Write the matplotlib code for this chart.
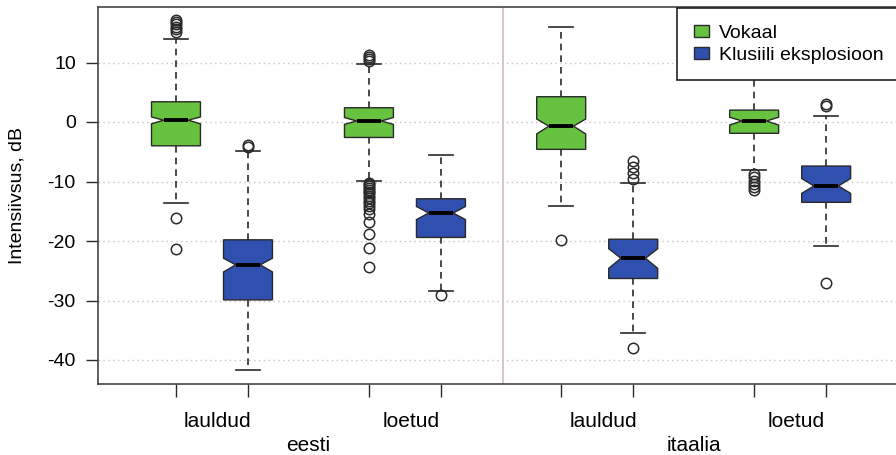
import matplotlib
matplotlib.use("Agg")
import matplotlib.pyplot as plt
from matplotlib.patches import Patch
from matplotlib.transforms import blended_transform_factory

plt.rcParams['font.family'] = ['Liberation Sans', 'DejaVu Sans']

# ---- data ----
groups = ["eesti", "itaalia"]
conditions = ["lauldud", "loetud"]
series = ["Vokaal", "Klusiili eksplosioon"]

q1 =     [-4.0, -29.9, -2.6, -19.4, -4.6, -26.3, -1.9, -13.5]
med =    [0.3, -24.0, 0.17, -15.3, -0.7, -22.9, 0.17, -10.75]
q3 =     [3.4, -19.8, 2.4, -12.9, 4.25, -19.7, 2.0, -7.4]
whislo = [-13.6, -41.7, -9.85, -28.4, -14.2, -35.4, -8.07, -20.8]
whishi = [13.9, -4.8, 9.75, -5.55, 16.0, -10.3, 9.0, 1.0]
cilo =   [-0.3, -25.2, -0.4, -16.4, -2.0, -24.6, -0.5, -12.0]
cihi =   [0.85, -22.9, 0.75, -14.2, 0.5, -21.3, 0.8, -9.5]
fliers = [
    [17.2, 16.8, 16.4, 16.0, 15.6, 15.2, -16.2, -21.3],
    [-4.15, -3.9],
    [11.2, 10.9, 10.6, 10.3, -10.2, -10.5, -10.8, -11.1, -11.4, -11.7, -12.0,
     -12.4, -12.8, -13.2, -13.6, -14.1, -14.6, -15.5, -16.8, -18.9, -21.2, -24.3],
    [-29.0],
    [-19.8],
    [-6.5, -7.5, -8.5, -9.5, -37.9],
    [-8.7, -9.3, -9.9, -10.5, -11.0, -11.5],
    [2.7, 3.1, -27.1],
]
yticks = [10, 0, -10, -20, -30, -40]

# ---- layout / style ----
positions = [1, 2, 3.68, 4.68, 6.35, 7.35, 9.03, 10.03]
colors = ["#66c23f", "#3050b0"]
edge = "#2a2a2a"

fig = plt.figure(figsize=(8.96, 4.55), dpi=100)
W, H = 896, 455
ax = fig.add_axes([98 / W, (H - 384) / H, (904 - 98) / W, (384 - 7) / H])

stats = []
for i in range(len(q1)):
    stats.append(dict(med=med[i], q1=q1[i], q3=q3[i], whislo=whislo[i],
                      whishi=whishi[i], cilo=cilo[i], cihi=cihi[i],
                      fliers=fliers[i]))

bp = ax.bxp(stats, positions=positions, widths=0.68, shownotches=True,
            patch_artist=True,
            boxprops=dict(edgecolor=edge, linewidth=1.0),
            medianprops=dict(color="black", linewidth=2.8, solid_capstyle="butt"),
            whiskerprops=dict(color=edge, linewidth=1.2, linestyle=(0, (4, 3))),
            capprops=dict(color=edge, linewidth=1.2),
            flierprops=dict(marker="o", markersize=7.5, markerfacecolor="none",
                            markeredgecolor=edge, markeredgewidth=1.1))
for i, b in enumerate(bp["boxes"]):
    b.set_facecolor(colors[i % 2])

ax.set_xlim(-0.083, 1 + (904 - 176) / 72)
ax.set_ylim((122 - 384) / 5.95, (122 - 7) / 5.95)

ax.set_yticks(yticks)
ax.set_yticklabels([str(t) for t in yticks])
ax.set_xticks(positions)
ax.set_xticklabels([""] * len(positions))
ax.tick_params(axis="both", direction="out", length=9, width=1.0, color=edge,
               labelsize=14, pad=7)

ax.grid(axis="y", color="#c4c4c4", linestyle=(0, (1, 2.5)), linewidth=1.0)
ax.set_axisbelow(True)
for s in ax.spines.values():
    s.set_color("#444444")
    s.set_linewidth(1.2)

sep = (positions[3] + positions[4]) / 2 + 0.03
ax.axvline(sep, color="#cdb9b9", linewidth=1.1, zorder=0.5)

trans = blended_transform_factory(ax.transData, ax.transAxes)
for g in range(2):
    for c in range(2):
        p0 = positions[g * 4 + c * 2]
        p1 = positions[g * 4 + c * 2 + 1]
        ax.text((p0 + p1) / 2 + 0.08, -0.10, conditions[c], transform=trans,
                ha="center", va="center", fontsize=15)
    gc = (positions[g * 4] + positions[g * 4 + 3]) / 2
    ax.text(gc, -0.162, groups[g], transform=trans, ha="center", va="center",
            fontsize=15)

ax.set_ylabel("Intensiivsus, dB", fontsize=14)
ax.yaxis.set_label_coords((26 - 98) / (904 - 98), 0.5)

handles = [Patch(facecolor=colors[k], edgecolor=edge, linewidth=1.0) for k in range(2)]
leg = fig.legend(handles, series, loc="upper left",
                 bbox_to_anchor=(677 / W, 1 - 8 / H), borderaxespad=0,
                 fontsize=14, frameon=True, fancybox=False,
                 handlelength=0.82, handleheight=0.62, handletextpad=0.5,
                 labelspacing=0.25, borderpad=0.85)
leg.get_frame().set_edgecolor("#222222")
leg.get_frame().set_linewidth(1.2)
leg.get_frame().set_facecolor("white")
leg.get_frame().set_alpha(1)
leg.set_zorder(10)

fig.savefig("out.png", dpi=100)
